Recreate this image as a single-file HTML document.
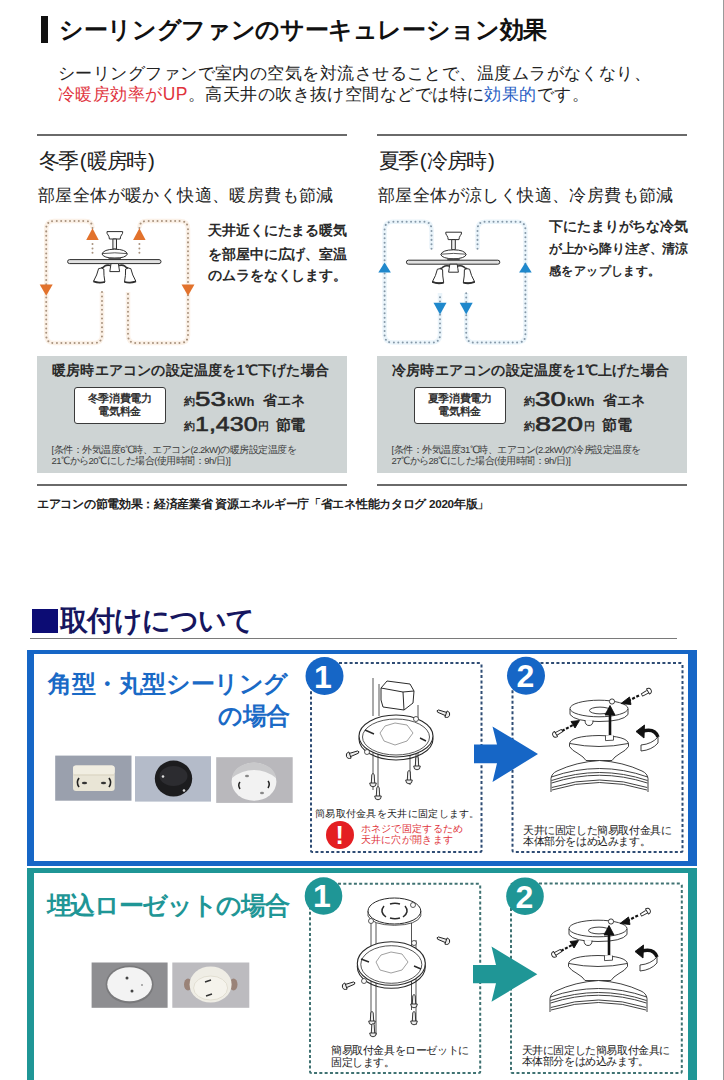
<!DOCTYPE html>
<html lang="ja"><head><meta charset="utf-8"><title>シーリングファン</title>
<style>
*{margin:0;padding:0;box-sizing:border-box}
html,body{width:724px;height:1080px;overflow:hidden;background:#fff}
body{position:relative;font-family:"Liberation Sans",sans-serif;color:#222}
.a{position:absolute}
.t{position:absolute;white-space:nowrap;font-size:var(--f);--k:0.03}
.b{font-weight:bold;--k:0.05}
.tofu .t{font-size:calc(var(--f)*1.25);-webkit-text-stroke:calc(var(--f)*var(--k)) currentColor}
.tofu .t .l{font-size:var(--f);letter-spacing:0 !important;-webkit-text-stroke:0}
.p{padding:0 1.8px}
.gbox{background:#ced4d4}
.lbl{background:#fff;border:1.5px solid #3a3a3a;border-radius:3px}
.hl{background:#6a6a6a;height:2px}
.frame{border-style:solid}
</style></head><body>

<!-- ===== top section ===== -->
<div class="a" style="left:41px;top:16px;width:7px;height:27px;background:#111"></div>
<div class="t b" style="--k:0.051;--f:24.45px;left:59px;top:16px;line-height:28px;color:#111">シーリングファンのサーキュレーション効果</div>

<div class="t" style="--k:0.029;--f:17.45px;left:58px;top:63px;line-height:21px;color:#222">シーリングファンで室内の空気を対流させることで、温度ムラがなくなり、</div>
<div class="t" style="--k:0.048;--f:17.45px;left:58px;top:84px;line-height:21px;color:#222"><span class="rb" style="color:#e0323c">冷暖房効率が<span class="l">UP</span></span>。高天井の吹き抜け空間などでは特に<span style="color:#2b5fc4">効果的</span>です。</div>

<div class="a hl" style="left:37px;top:134px;width:310px"></div>
<div class="a hl" style="left:377px;top:134px;width:310px"></div>

<div class="t" style="--k:0.088;--f:20.5px;left:38.5px;top:148.5px;line-height:24px;color:#222">冬季<span class="l p">(</span>暖房時<span class="l p">)</span></div>
<div class="t" style="--k:0.09;--f:20.5px;left:378.5px;top:148.5px;line-height:24px;color:#222">夏季<span class="l p">(</span>冷房時<span class="l p">)</span></div>

<div class="t" style="--k:0.074;--f:17.4px;left:38px;top:185px;line-height:21px;color:#222">部屋全体が暖かく快適、暖房費も節減</div>
<div class="t" style="--k:0.066;--f:17.4px;left:378px;top:185px;line-height:21px;color:#222">部屋全体が涼しく快適、冷房費も節減</div>

<div class="t b" style="--k:0.073;--f:13.9px;left:208px;top:219.5px;line-height:21px;color:#2a2a2a">天井近くにたまる暖気</div>
<div class="t b" style="--k:0.083;--f:13.9px;left:208px;top:243.5px;line-height:21px;color:#2a2a2a">を部屋中に広げ、室温</div>
<div class="t b" style="--k:0.032;--f:13.9px;left:208px;top:264.5px;line-height:21px;color:#2a2a2a">のムラをなくします。</div>
<div class="t b" style="--k:0.059;--f:13.9px;left:549px;top:216px;line-height:21px;color:#2a2a2a">下にたまりがちな冷気</div>
<div class="t b" style="--k:0.05;--f:12.6px;left:549px;top:239.3px;line-height:21px;color:#2a2a2a">が上から降り注ぎ、清涼</div>
<div class="t b" style="--k:0.017;--f:12.4px;left:549px;top:261.4px;line-height:21px;color:#2a2a2a">感をアップします。</div>

<!-- gray boxes -->
<div class="a gbox" style="left:37px;top:356px;width:310px;height:117px"></div>
<div class="a gbox" style="left:377px;top:356px;width:310px;height:117px"></div>

<div class="t b" style="--k:0.076;--f:14.2px;left:52px;top:361px;line-height:18px;color:#2a2a2a">暖房時エアコンの設定温度を<span class="l">1℃</span>下げた場合</div>
<div class="t b" style="--k:0.081;--f:14.2px;left:392px;top:361px;line-height:18px;color:#2a2a2a">冷房時エアコンの設定温度を<span class="l">1℃</span>上げた場合</div>

<div class="a lbl" style="left:73.5px;top:386.8px;width:92.5px;height:37.2px"></div>
<div class="a lbl" style="left:413.5px;top:386.8px;width:92.5px;height:37.2px"></div>
<div class="t b" style="--k:0.084;--f:10.7px;left:73.5px;width:92.5px;text-align:center;top:391.6px;line-height:13.8px;color:#333">冬季消費電力<br>電気料金</div>
<div class="t b" style="--k:0.092;--f:10.7px;left:413.5px;width:92.5px;text-align:center;top:391.6px;line-height:13.8px;color:#333">夏季消費電力<br>電気料金</div>

<div class="t b" style="--k:0.09;--f:10.5px;left:184px;top:395px;line-height:12px;color:#2a2a2a">約</div>
<div class="t b" style="--k:0.09;--f:10.5px;left:184px;top:420px;line-height:12px;color:#2a2a2a">約</div>
<div class="t b" style="--k:0.09;--f:10.5px;left:524px;top:395px;line-height:12px;color:#2a2a2a">約</div>
<div class="t b" style="--k:0.09;--f:10.5px;left:524px;top:420px;line-height:12px;color:#2a2a2a">約</div>

<div class="a" style="left:195px;top:389px;font-size:19.6px;line-height:20px;color:#2a2a2a;-webkit-text-stroke:0.6px #2a2a2a;transform:scaleX(1.42);transform-origin:0 0">53</div>
<div class="a" style="left:227px;top:395px;font-size:13px;line-height:14px;font-weight:bold;color:#2a2a2a">kWh</div>
<div class="t b" style="--k:0.054;--f:13.8px;left:263px;top:393px;line-height:16px;color:#2a2a2a">省エネ</div>
<div class="a" style="left:195px;top:414px;font-size:21px;line-height:20px;color:#2a2a2a;-webkit-text-stroke:0.6px #2a2a2a;transform:scaleX(1.19);transform-origin:0 0">1,430</div>
<div class="t b" style="--k:0.077;--f:10.5px;left:258px;top:420px;line-height:12px;color:#2a2a2a">円</div>
<div class="t b" style="--k:0.117;--f:14.5px;left:275.5px;top:417px;line-height:16px;color:#2a2a2a">節電</div>

<div class="a" style="left:535px;top:389px;font-size:19.6px;line-height:20px;color:#2a2a2a;-webkit-text-stroke:0.6px #2a2a2a;transform:scaleX(1.42);transform-origin:0 0">30</div>
<div class="a" style="left:567px;top:395px;font-size:13px;line-height:14px;font-weight:bold;color:#2a2a2a">kWh</div>
<div class="t b" style="--k:0.054;--f:13.8px;left:603px;top:393px;line-height:16px;color:#2a2a2a">省エネ</div>
<div class="a" style="left:535px;top:414px;font-size:21px;line-height:20px;color:#2a2a2a;-webkit-text-stroke:0.6px #2a2a2a;transform:scaleX(1.375);transform-origin:0 0">820</div>
<div class="t b" style="--k:0.072;--f:10.5px;left:584px;top:420px;line-height:12px;color:#2a2a2a">円</div>
<div class="t b" style="--k:0.107;--f:14.8px;left:602px;top:417px;line-height:16px;color:#2a2a2a">節電</div>

<div class="t" style="--k:0.027;--f:9.5px;left:51.5px;top:443.7px;line-height:11.5px;color:#3c3c3c"><span class="l">[</span>条件：外気温度<span class="l">6℃</span>時、エアコン<span class="l">(2.2kW)</span>の暖房設定温度を<br><span class="l">21℃</span>から<span class="l">20℃</span>にした場合<span class="l">(</span>使用時間：<span class="l">9h/</span>日<span class="l">)]</span></div>
<div class="t" style="--k:0.035;--f:9.5px;left:391.5px;top:443.7px;line-height:11.5px;color:#3c3c3c"><span class="l">[</span>条件：外気温度<span class="l">31℃</span>時、エアコン<span class="l">(2.2kW)</span>の冷房設定温度を<br><span class="l">27℃</span>から<span class="l">28℃</span>にした場合<span class="l">(</span>使用時間：<span class="l">9h/</span>日<span class="l">)]</span></div>

<div class="a hl" style="left:37px;top:484px;width:310px"></div>
<div class="a hl" style="left:377px;top:484px;width:310px"></div>

<div class="t b" style="--k:0.058;--f:11.7px;left:37px;top:496.2px;line-height:15px;color:#222">エアコンの節電効果：経済産業省 資源エネルギー庁「省エネ性能カタログ <span class="l">2020</span>年版」</div>

<!-- ===== bottom section ===== -->
<div class="a" style="left:32px;top:608.5px;width:25.5px;height:24px;background:#0c0c74"></div>
<div class="t b" style="--k:0.063;--f:27.9px;left:59.5px;top:604.2px;line-height:33px;color:#16165f">取付けについて</div>
<div class="a" style="left:30px;top:637.5px;width:647px;height:1.5px;background:#7a7a7a"></div>

<div class="a frame" style="left:27px;top:650px;width:670px;height:216px;border-color:#1666c6;border-width:4.5px 9px 5px 7px"></div>
<div class="a frame" style="left:27px;top:868px;width:670px;height:230px;border-color:#1f9696;border-width:5px 9.5px 0 7px"></div>

<div class="t b" style="--k:0.066;--f:24.4px;left:48px;top:669px;line-height:30px;color:#1a6ac6">角型・丸型シーリング</div>
<div class="t b" style="--k:0.118;--f:24.4px;left:218px;top:700.5px;line-height:30px;color:#1a6ac6">の場合</div>
<div class="t b" style="--k:0.085;--f:24.5px;left:46.5px;top:890.5px;line-height:30px;color:#1f9696">埋込ローゼットの場合</div>

<svg class="a" style="left:0;top:0" width="724" height="1080" viewBox="0 0 724 1080">
 <defs>
  <g id="fan" stroke="#2e2e2e" stroke-width="1" fill="#fff" stroke-linejoin="round">
   <path d="M107 231.6 L122.7 231.6 Q123 233.5 121.5 235 Q120.3 236.5 120.2 239 L109.4 239 Q109.3 236.5 108.1 235 Q106.6 233.5 107 231.6 Z"/>
   <rect x="112.9" y="239" width="3.6" height="10" fill="#eee"/>
   <path d="M102 254 Q103.5 249.3 114.7 249.2 Q125.9 249.3 127.4 254 Q126 258 114.7 258.2 Q103.4 258 102 254 Z"/>
   <path d="M102.5 253.6 Q114.7 252 127 253.6" fill="none" stroke-width="0.8"/>
   <rect x="108.5" y="257.6" width="12.4" height="2.6" fill="#555" stroke="none"/>
   <rect x="67.6" y="259.6" width="93.4" height="4" rx="2" fill="#e2e2e2"/>
   <path d="M111 263.6 Q110.3 268.5 109.8 271.6 L119.6 271.6 Q119.1 268.5 118.4 263.6 Z"/>
   <path d="M110.5 265.5 Q107 264.5 104.5 266.2 Q103 268.2 101 268 M118.9 265.5 Q122.4 264.5 124.9 266.2 Q126.4 268.2 128.4 268" fill="none" stroke-width="1.6"/>
   <path d="M98.6 268.6 Q97.2 275 93.5 281.3 Q99 283.6 104.9 282 Q103.6 275.2 103.8 269 Q101.2 267.4 98.6 268.6 Z"/>
   <path d="M125.6 269 Q125.8 275.2 124.5 282 Q130.4 283.6 135.9 281.3 Q132.2 275 130.8 268.6 Q128.2 267.4 125.6 269 Z"/>
   <path d="M93.5 281.3 Q99 283.6 104.9 282 M124.5 282 Q130.4 283.6 135.9 281.3" fill="none" stroke-width="1.8"/>
  </g>
  <g id="screwh"><path d="M0 -3.3 Q-3.8 -3.3 -3.8 0 Q-3.8 3.3 0 3.3 L0 -3.3 Z M0 -1.7 L8.5 -1.2 L9.5 0 L8.5 1.2 L0 1.7" fill="#eee" stroke="#222" stroke-width="0.9"/></g>
  <g id="screwv"><path d="M-3.3 0 Q-3.3 -3.8 0 -3.8 Q3.3 -3.8 3.3 0 Z M-1.7 0 L-1.2 8.5 L0 9.5 L1.2 8.5 L1.7 0" fill="#eee" stroke="#222" stroke-width="0.9"/></g>
  <g id="step2" stroke="#2a2a2a" stroke-width="0.9" fill="#fff" stroke-linejoin="round">
   <path d="M570 709 L570 714.5 Q575 721.5 599 721.5 Q623 721.5 628 714.5 L628 709"/>
   <ellipse cx="599" cy="708.5" rx="29" ry="8.3"/>
   <ellipse cx="600" cy="710.5" rx="10.5" ry="3.4" fill="#fff"/>
   <path d="M585 720 Q585 725.5 589 725.5 Q593 725.5 593 720.5" />
   <circle cx="612" cy="701.5" r="2.6"/>
   <path d="M610 735 L610 713" stroke="#111" stroke-width="2.6"/>
   <path d="M605 715 L610 705.5 L615 715 Z" fill="#111" stroke="#111"/>
   <path d="M562 731 L573 725" stroke="#111" stroke-width="2.2" stroke-dasharray="3 1.6" fill="none"/>
   <path d="M571 721.5 L579.5 720.5 L575 728 Z" fill="#111" stroke="#111"/>
   <path d="M639 695.5 L628 701" stroke="#111" stroke-width="2.2" stroke-dasharray="3 1.6" fill="none"/>
   <path d="M629.5 697 L621 703.5 L631 704.5 Z" fill="#111" stroke="#111"/>
   <g transform="translate(556 734) rotate(-30)"><path d="M0 -3 Q-3.4 -3 -3.4 0 Q-3.4 3 0 3 Z M0 -1.6 L7 -1.3 L7 1.3 L0 1.6"/></g>
   <g transform="translate(648 691.5) rotate(150)"><path d="M0 -3 Q-3.4 -3 -3.4 0 Q-3.4 3 0 3 Z M0 -1.6 L7 -1.3 L7 1.3 L0 1.6"/></g>
   <path d="M641 745 L641 751 Q652 750 658 743 L658 737 Q652 744 641 745 Z" fill="#fff"/>
   <path d="M643 731 Q655 728 658 737" stroke="#111" stroke-width="3.4" fill="none"/>
   <path d="M636 731.5 L644.5 725 L644 738 Z" fill="#111" stroke="#111"/>
   <path d="M569.5 744 Q570 736 599 735.5 Q628 736 628.5 744 L628.5 746.5 Q626 750.5 620 753.5 Q614 757 612 760.5 L586 760.5 Q584 757 578 753.5 Q572 750.5 569.5 746.5 Z"/>
   <path d="M569.8 743.5 Q599 749.5 628.3 743.5" fill="none"/>
   <path d="M605.5 735.4 L605.5 740.6 L613.5 740.2 L613.5 735.6" fill="#fff" stroke-width="0.8"/>
   <path d="M551 792 L551 778.5 Q551.5 773.5 557 771 Q576 762 599.5 760.5 Q623 762 642 771 Q647.5 773.5 648 778.5 L648 792"/>
   <path d="M551.3 777 Q599.5 760 647.7 777 M551.5 780.5 Q599.5 764.5 647.5 780.5 M551.6 783 Q599.5 767.5 647.4 783 M551.8 787.5 Q599.5 772.5 647.2 787.5 M552 790 Q599.5 775 647 790" fill="none" stroke-width="0.9"/>
  </g>
 </defs>

 <!-- winter loops -->
 <g fill="none" stroke="#fbeee2" stroke-width="4.5" opacity="0.8"><path d="M92.5 228 Q92.5 221 85 221 L54 221 Q46.2 221 46.2 229 L46.2 335 Q46.2 343 54 343 L94 343 Q102 343 102 335 L102 292"/><path d="M139.4 228 Q139.4 221 147 221 L180 221 Q188 221 188 229 L188 335 Q188 343 180 343 L136 343 Q128 343 128 335 L128 292"/></g>
 <g fill="none" stroke="#a8927e" stroke-width="2" stroke-linecap="round" stroke-dasharray="0.01 4.4">
  <path d="M92.5 228 Q92.5 221 85 221 L54 221 Q46.2 221 46.2 229 L46.2 335 Q46.2 343 54 343 L94 343 Q102 343 102 335 L102 292"/>
  <path d="M139.4 228 Q139.4 221 147 221 L180 221 Q188 221 188 229 L188 335 Q188 343 180 343 L136 343 Q128 343 128 335 L128 292"/>
  <path d="M92.5 244 L92.5 256 M139.4 244 L139.4 256"/>
 </g>
 <g fill="#e2722c">
  <polygon points="86.2,240 98.7,240 92.5,228.3"/>
  <polygon points="133.1,240 145.6,240 139.4,228.3"/>
  <polygon points="39.7,284.6 52.7,284.6 46.2,295.8"/>
  <polygon points="181.5,284.6 194.5,284.6 188,295.8"/>
 </g>
 <use href="#fan"/>

 <!-- summer loops -->
 <g fill="none" stroke="#e6f2fa" stroke-width="4.5" opacity="0.8"><path d="M431.5 248.7 L431.5 229.7 Q431.5 221.7 423.5 221.7 L392.6 221.7 Q384.6 221.7 384.6 229.7 L384.6 334.6 Q384.6 342.6 392.6 342.6 L432 342.6 Q440 342.6 440 334.6 L440 293"/><path d="M477.5 248.7 L477.5 229.7 Q477.5 221.7 485.5 221.7 L517.4 221.7 Q525.4 221.7 525.4 229.7 L525.4 334.6 Q525.4 342.6 517.4 342.6 L474.2 342.6 Q466.2 342.6 466.2 334.6 L466.2 293"/></g>
 <g fill="none" stroke="#8598a8" stroke-width="2" stroke-linecap="round" stroke-dasharray="0.01 4.4">
  <path d="M431.5 248.7 L431.5 229.7 Q431.5 221.7 423.5 221.7 L392.6 221.7 Q384.6 221.7 384.6 229.7 L384.6 334.6 Q384.6 342.6 392.6 342.6 L432 342.6 Q440 342.6 440 334.6 L440 293"/>
  <path d="M477.5 248.7 L477.5 229.7 Q477.5 221.7 485.5 221.7 L517.4 221.7 Q525.4 221.7 525.4 229.7 L525.4 334.6 Q525.4 342.6 517.4 342.6 L474.2 342.6 Q466.2 342.6 466.2 334.6 L466.2 293"/>
 </g>
 <g fill="#1f88cc">
  <polygon points="378.3,272.5 390.9,272.5 384.6,262.5"/>
  <polygon points="519.1,272.5 531.7,272.5 525.4,262.5"/>
  <polygon points="433.5,302.7 446.5,302.7 440,314.5"/>
  <polygon points="459.7,302.7 472.7,302.7 466.2,314.5"/>
 </g>
 <use href="#fan" transform="translate(338.8 0.6)"/>


 <!-- photos blue -->
 <rect x="55.2" y="755.6" width="76.3" height="45.1" fill="#9aa0ad"/>
 <rect x="73" y="765.5" width="41.7" height="25.5" rx="3" fill="#e9e5d6"/>
 <rect x="73" y="765.5" width="41.7" height="9" rx="3" fill="#f1eee2"/>
 <path d="M73.5 775 L114.2 775" stroke="#d8d2bf" stroke-width="1"/>
 <path d="M79 778 Q75.8 782.5 79 787 M109 778 Q112.2 782.5 109 787" stroke="#222" stroke-width="1.7" fill="none"/>
 <ellipse cx="84.5" cy="783" rx="2.6" ry="1.3" fill="#333"/><ellipse cx="103.5" cy="783" rx="2.6" ry="1.3" fill="#333"/>
 <rect x="135" y="756.2" width="76" height="45.4" fill="#b4bbc9"/>
 <ellipse cx="173.5" cy="778.6" rx="18.7" ry="18" fill="#1c1c1e"/>
 <ellipse cx="173.5" cy="776" rx="14" ry="10" fill="#2c2c30"/>
 <circle cx="163" cy="776.5" r="1.3" fill="#ddd"/><circle cx="184" cy="790.5" r="1.3" fill="#ddd"/>
 <rect x="216.2" y="757.2" width="76.5" height="45.7" fill="#b9b8bc"/>
 <ellipse cx="254" cy="781.7" rx="22.4" ry="19" fill="#f2f2f2"/>
 <path d="M232 778 Q234 764 254 762.5 Q274 764 276 778 Q266 770 254 770 Q242 770 232 778 Z" fill="#c9c9cb"/>
 <path d="M240 782 Q237.5 785 240 789 M268 781 Q270.5 784 268 788" stroke="#222" stroke-width="1.5" fill="none"/>
 <ellipse cx="247" cy="776" rx="2" ry="1.2" fill="#888"/><ellipse cx="262" cy="793" rx="2" ry="1.2" fill="#888"/>
 <!-- photos teal -->
 <rect x="91.6" y="962.5" width="76" height="45.3" fill="#8e8e91"/>
 <ellipse cx="129.6" cy="984.5" rx="24" ry="19" fill="#7a7a7c"/>
 <ellipse cx="129.6" cy="984.3" rx="22.3" ry="17" fill="#f3f3f3"/>
 <circle cx="127" cy="978" r="1.5" fill="#444"/><circle cx="132" cy="991" r="1.5" fill="#444"/><circle cx="142" cy="985" r="1" fill="#999"/>
 <rect x="172.3" y="962.5" width="77" height="45.3" fill="#bcbbbf"/>
 <ellipse cx="188" cy="984.5" rx="4" ry="6" fill="#9a8378"/><ellipse cx="233.5" cy="984.5" rx="4" ry="6" fill="#9a8378"/>
 <ellipse cx="210.6" cy="984.5" rx="21" ry="18" fill="#efede5"/>
 <ellipse cx="210.6" cy="988" rx="17" ry="12" fill="#f5f3ec" stroke="#ddd9cc" stroke-width="0.8"/>
 <path d="M205 982 L211 980 M206 996 L212 994" stroke="#333" stroke-width="1.5"/>

 <!-- step1 blue -->
 <g stroke="#2a2a2a" stroke-width="0.8" fill="none">
  <path d="M373 678 L373 716 M379 684 L379 716 M418 705 L418 762 M373 748 L373 790 M378 748 L378 800 M410 752 L410 785 M416 748 L416 768"/>
  <path d="M381 688 L387 681 L410 684 L414 691 L413 703 L404 710 L383 707 L381 700 Z M381 688 L403 692 L414 691 M403 692 L404 710" fill="#fff" stroke-width="1"/>
  <ellipse cx="396" cy="739" rx="37" ry="21" stroke-width="1.1"/>
  <ellipse cx="396" cy="736" rx="37" ry="21" fill="#fff" stroke-width="1.1"/>
  <ellipse cx="396" cy="737" rx="33.5" ry="18"/>
  <path d="M380 733 L385 726 L395 723 L407 725 L413 733 L407 741 L395 745 L384 741 Z" stroke="#888"/>
  <path d="M365 730 L374 734 M426 741 L420 738" stroke-width="1.4"/>
 </g>
 <g transform="translate(350 755) rotate(-20)"><use href="#screwh"/></g>
 <g transform="translate(446 714) rotate(200)"><use href="#screwh"/></g>
 <g transform="translate(373 783) rotate(180)"><use href="#screwv"/></g>
 <g transform="translate(378 796) rotate(180)"><use href="#screwv"/></g>
 <g transform="translate(409 780) rotate(180)"><use href="#screwv"/></g>
 <g transform="translate(417 766) rotate(180)"><use href="#screwv"/></g>
 <circle cx="416" cy="719" r="2.5" fill="#fff" stroke="#333" stroke-width="0.8"/>
 <circle cx="367" cy="752" r="2.5" fill="#fff" stroke="#333" stroke-width="0.8"/>

 <use href="#step2"/>
 <use href="#step2" transform="translate(-1 220)"/>

 <!-- step1 teal -->
 <g stroke="#2a2a2a" stroke-width="0.8" fill="none">
  <path d="M371 915 L371 1022 M376 918 L376 1035 M411.5 912 L411.5 1010 M416 940 L416 1025"/>
  <path d="M368 911 L368 916 Q372 925 394.4 925.3 Q417 925 420.8 916 L420.8 911" fill="#fff"/>
  <ellipse cx="394.4" cy="911" rx="26.4" ry="13" fill="#fff" stroke-width="1"/>
  <path d="M384 906 Q379 912 386 917 M405 906 Q410 912 403 917 M390 904 Q395 902.5 400 904 M390 918 Q395 919.5 400 918" stroke-width="1.5"/>
  <ellipse cx="391.3" cy="966.5" rx="34" ry="21.8" stroke-width="1.1"/>
  <ellipse cx="391.3" cy="963.5" rx="34" ry="21.8" fill="#fff" stroke-width="1.1"/>
  <ellipse cx="391.3" cy="964.5" rx="30.5" ry="18.8"/>
  <path d="M376 962 L381 955 L391 952 L402 954 L408 962 L402 970 L391 973 L380 970 Z" stroke="#888"/>
  <path d="M361 959 L369 962 M421 969 L414 966" stroke-width="1.4"/>
 </g>
 <g transform="translate(346 986) rotate(-20)"><use href="#screwh"/></g>
 <g transform="translate(446 941) rotate(200)"><use href="#screwh"/></g>
 <g transform="translate(372 1021) rotate(180)"><use href="#screwv"/></g>
 <g transform="translate(373 1033) rotate(180)"><use href="#screwv"/></g>
 <g transform="translate(414 1004) rotate(180)"><use href="#screwv"/></g>
 <g transform="translate(414 1021) rotate(180)"><use href="#screwv"/></g>
 <circle cx="371" cy="921" r="2.5" fill="#fff" stroke="#333" stroke-width="0.8"/>
 <circle cx="413" cy="905" r="2.5" fill="#fff" stroke="#333" stroke-width="0.8"/>
 <circle cx="414" cy="943" r="2.5" fill="#fff" stroke="#333" stroke-width="0.8"/>
 <circle cx="364" cy="981" r="2.5" fill="#fff" stroke="#333" stroke-width="0.8"/>

 <!-- dashed step boxes -->
 <g fill="none" stroke-width="2" stroke-dasharray="3 2.3">
  <rect x="311" y="663" width="170.5" height="189" rx="1.5" stroke="#2e4c74"/>
  <rect x="512.5" y="663" width="170" height="189" rx="1.5" stroke="#2e4c74"/>
  <rect x="310" y="883.7" width="170.2" height="189.3" rx="1.5" stroke="#3f7272"/>
  <rect x="511" y="883.5" width="170.8" height="189.5" rx="1.5" stroke="#3f7272"/>
 </g>
 <circle cx="324.5" cy="676" r="19" fill="#1666c6"/>
 <circle cx="526" cy="675.7" r="19" fill="#1666c6"/>
 <circle cx="323.5" cy="896" r="18.8" fill="#1f9696"/>
 <circle cx="525" cy="896.2" r="18.8" fill="#1f9696"/>
 <g fill="#fff" font-family="Liberation Sans, sans-serif" font-weight="bold" font-size="32" text-anchor="middle">
  <text x="323" y="687.5">1</text>
  <text x="525.5" y="687">2</text>
  <text x="322" y="907.2">1</text>
  <text x="524.5" y="907.5">2</text>
 </g>
 <!-- arrows -->
 <polygon points="474,744.4 497,744.4 492.5,726.4 538,754 492.5,782 497,763.2 474,763.2" fill="#1666c6"/>
 <polygon points="473,965 496,965 491.5,946.6 537.3,974.2 491.5,1001.8 496,983.2 473,983.2" fill="#1f9696"/>
</svg>

<div class="t" style="--k:0.025;--f:10.3px;left:315px;top:808px;line-height:12px;color:#222">簡易取付金具を天井に固定します。</div>
<div class="a" style="left:325.7px;top:820.6px;width:28px;height:28px;border-radius:50%;background:#e41e22;color:#fff;font-weight:bold;font-size:25px;line-height:28px;text-align:center">!</div>
<div class="t" style="--k:0.013;--f:10.3px;left:360.5px;top:823.2px;line-height:11.3px;color:#e0353d">ホネジで固定するため<br>天井に穴が開きます</div>
<div class="t" style="--k:0.027;--f:10.6px;left:523px;top:825px;line-height:11px;color:#222">天井に固定した簡易取付金具に<br>本体部分をはめ込みます。</div>
<div class="t" style="--k:0.015;--f:10.6px;left:331px;top:1044px;line-height:12px;color:#222">簡易取付金具をローゼットに<br>固定します。</div>
<div class="t" style="--k:0.027;--f:10.6px;left:521.5px;top:1045px;line-height:11px;color:#222">天井に固定した簡易取付金具に<br>本体部分をはめ込みます。</div>

<!-- right edge line -->
<div class="a" style="left:723px;top:0;width:1px;height:1080px;background:#9a9a9a"></div>

<script>
(function(){var d=document,s=d.createElement('span');s.style.cssText='position:absolute;left:-9999px;top:0;font:100px "Liberation Sans",sans-serif;white-space:nowrap';s.textContent='水水水水水水水水水水';d.body.appendChild(s);var w=s.getBoundingClientRect().width;s.parentNode.removeChild(s);
if(w<900)d.documentElement.className='tofu';var els=d.querySelectorAll('.t');for(var i=0;i<els.length;i++){var e=els[i],f=parseFloat(getComputedStyle(e).getPropertyValue('--f'));if(!f)continue;var t=d.createElement('span');t.style.letterSpacing='0';t.textContent='のシ水ンをのシ水ンを';e.appendChild(t);var a=t.getBoundingClientRect().width/10;e.removeChild(t);if(Math.abs(f-a)>0.02)e.style.letterSpacing=(f-a)+'px';}})();
</script>
</body></html>
